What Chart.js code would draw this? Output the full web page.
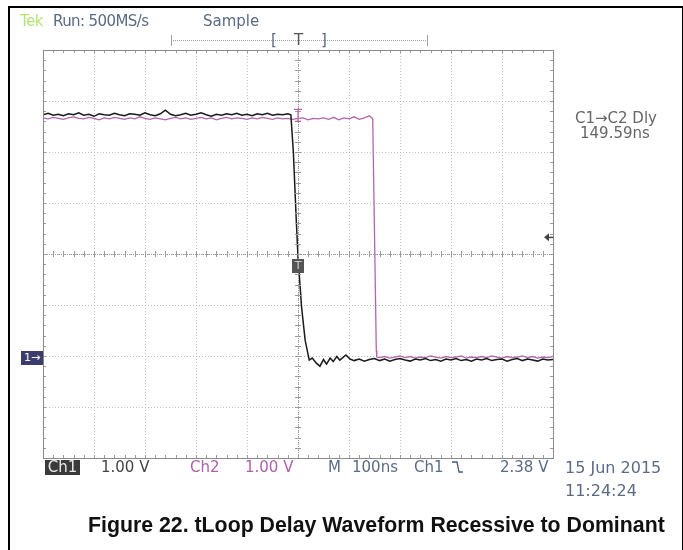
<!DOCTYPE html>
<html>
<head>
<meta charset="utf-8">
<script src="https://cdn.jsdelivr.net/npm/chart.js@4.4.0/dist/chart.umd.min.js"></script>
<style>
body{margin:0;background:#fff;}
#wrap{position:relative;width:683px;height:550px;background:#fff;overflow:hidden;}
#frame{position:absolute;left:8px;top:6px;width:672px;height:560px;border-left:2px solid #000;border-top:2px solid #000;border-right:2px solid #000;}
.t{position:absolute;white-space:nowrap;font-family:"DejaVu Sans",sans-serif;font-size:15px;line-height:16px;color:#5b6b85;}
#cap{position:absolute;left:88px;top:513px;white-space:nowrap;font-family:"Liberation Sans",Arial,sans-serif;font-weight:bold;font-size:21.3px;color:#111;}
canvas{position:absolute;left:0;top:0;}
</style>
</head>
<body>
<div id="wrap">
<canvas id="scope" width="683" height="550"></canvas>
<div id="frame"></div>
<div class="t" style="left:20px;top:13px;color:#b6e374;letter-spacing:-0.5px">Tek</div>
<div class="t" style="left:53px;top:13px;letter-spacing:-0.6px">Run: 500MS/s</div>
<div class="t" style="left:203px;top:13px">Sample</div>
<div class="t" style="left:271px;top:32px">[</div>
<div class="t" style="left:294px;top:32px;color:#555">T</div>
<div class="t" style="left:321px;top:32px">]</div>
<div class="t" style="left:575px;top:110px;color:#666">C1→C2 Dly</div>
<div class="t" style="left:580px;top:125px;color:#666">149.59ns</div>
<div class="t" style="left:45px;top:460px;width:35px;height:15px;line-height:15px;background:#3a3a3a;color:#e8e8e8;text-align:center">Ch1</div>
<div class="t" style="left:101px;top:459px;color:#444">1.00 V</div>
<div class="t" style="left:190px;top:459px;color:#b060a8">Ch2</div>
<div class="t" style="left:245px;top:459px;color:#b060a8">1.00 V</div>
<div class="t" style="left:328px;top:459px">M</div>
<div class="t" style="left:352px;top:459px">100ns</div>
<div class="t" style="left:414px;top:459px">Ch1</div>
<div class="t" style="left:500px;top:459px">2.38 V</div>
<div class="t" style="left:565px;top:460px;font-size:16px">15 Jun 2015</div>
<div class="t" style="left:565px;top:483px;font-size:16px">11:24:24</div>
<div class="t" style="left:21px;top:351px;width:22px;height:14px;line-height:14px;font-size:11px;background:#3c3c6c;color:#fff;text-align:center">1→</div>
<div class="t" style="left:292px;top:259px;width:12px;height:14px;line-height:14px;font-size:11px;background:#555;color:#ccc;text-align:center">T</div>
<div id="cap">Figure 22. tLoop Delay Waveform Recessive to Dominant</div>
</div>
<script>
// channel 1 (black), time in ns, level in divisions
let ch1Time=[-500,-490,-480,-470,-460,-450,-440,-430,-420,-410,-400,-390,-380,-370,-360,-350,-340,-330,-320,-310,
  -300,-290,-280,-270,-260,-250,-240,-230,-220,-210,-200,-190,-180,-170,-160,-150,-140,-130,-120,-110,
  -100,-90,-80,-70,-60,-50,-40,-30,-20,
  -14,-9,-4,0,7,14,22,28,36,43,50,56,63,69,76,82,94,102,
  110,120,130,140,150,160,170,180,190,200,210,220,230,240,250,260,270,280,290,300,
  310,320,330,340,350,360,370,380,390,400,410,420,430,440,450,460,470,480,490,500];
let ch1Level=[2.73,2.76,2.72,2.74,2.71,2.75,2.73,2.77,2.72,2.74,2.70,2.75,2.73,2.72,2.76,2.73,2.71,2.75,2.74,2.72,
  2.77,2.73,2.71,2.75,2.82,2.74,2.71,2.73,2.76,2.72,2.74,2.77,2.73,2.70,2.74,2.72,2.75,2.73,2.76,2.72,
  2.74,2.71,2.75,2.73,2.76,2.72,2.74,2.73,2.75,
  2.73,1.98,0.80,-0.06,-1.04,-1.69,-2.08,-2.04,-2.14,-2.20,-2.07,-2.16,-2.04,-2.11,-2.01,-2.08,-1.98,-2.06,
  -2.09,-2.06,-2.10,-2.07,-2.05,-2.09,-2.06,-2.10,-2.07,-2.05,-2.08,-2.10,-2.06,-2.08,-2.05,-2.09,-2.07,-2.10,-2.06,-2.08,
  -2.05,-2.09,-2.07,-2.10,-2.06,-2.08,-2.05,-2.09,-2.07,-2.06,-2.10,-2.07,-2.05,-2.09,-2.06,-2.08,-2.10,-2.06,-2.08,-2.07];

// channel 2 (purple)
let ch2Time=[-500,-490,-480,-470,-460,-450,-440,-430,-420,-410,-400,-390,-380,-370,-360,-350,-340,-330,-320,-310,
  -300,-290,-280,-270,-260,-250,-240,-230,-220,-210,-200,-190,-180,-170,-160,-150,-140,-130,-120,-110,
  -100,-90,-80,-70,-60,-50,-40,-30,-20,-10,0,10,20,30,40,50,60,70,80,90,100,110,120,130,140,
  146.5,147.8,153.5,154.5,
  160,170,180,190,200,210,220,230,240,250,260,270,280,290,300,310,320,330,340,350,
  360,370,380,390,400,410,420,430,440,450,460,470,480,490,500];
let ch2Level=[2.67,2.65,2.68,2.66,2.64,2.67,2.69,2.66,2.65,2.68,2.66,2.63,2.67,2.65,2.68,2.66,2.64,2.67,2.65,2.69,
  2.66,2.64,2.67,2.65,2.63,2.66,2.68,2.65,2.67,2.64,2.66,2.68,2.65,2.67,2.63,2.66,2.68,2.65,2.67,2.66,
  2.64,2.67,2.65,2.68,2.66,2.64,2.67,2.65,2.66,2.64,2.66,2.67,2.63,2.66,2.65,2.67,2.64,2.68,2.63,2.67,2.65,2.69,2.64,2.67,2.71,
  2.65,1.84,-1.88,-2.02,
  -2.03,-2.01,-2.04,-2.02,-2.00,-2.03,-2.01,-2.04,-2.02,-2.03,-2.00,-2.02,-2.04,-2.01,-2.03,-2.02,-2.00,-2.04,-2.02,-2.03,
  -2.01,-2.03,-2.00,-2.02,-2.04,-2.01,-2.03,-2.02,-2.00,-2.03,-2.01,-2.04,-2.02,-2.03,-2.01];

let trigLevel=0.33;   // arrow on right edge
let ch2Cursor=2.66;   // purple marker at t=0

let toPoints=(xs,ys)=>xs.map((x,i)=>({x:x,y:ys[i]}));

let scopeDeco={
  id:'scopeDeco',
  afterDatasetsDraw(chart){
    let ctx=chart.ctx, a=chart.chartArea, sx=chart.scales.x, sy=chart.scales.y;
    let cx=sx.getPixelForValue(0), cy=sy.getPixelForValue(0);
    ctx.save();
    ctx.strokeStyle='#9c9c9c';
    ctx.lineWidth=1;
    // centre axes, denser dots
    ctx.setLineDash([1,1]);
    ctx.beginPath();
    ctx.moveTo(a.left,Math.round(cy)+0.5);ctx.lineTo(a.right,Math.round(cy)+0.5);
    ctx.moveTo(Math.round(cx)+0.5,a.top);ctx.lineTo(Math.round(cx)+0.5,a.bottom);
    ctx.stroke();
    ctx.setLineDash([]);
    // minor ticks
    ctx.beginPath();
    for(let t=-500;t<=500;t+=20){
      let px=Math.round(sx.getPixelForValue(t))+0.5;
      ctx.moveTo(px,cy-3);ctx.lineTo(px,cy+3);
      ctx.moveTo(px,a.top);ctx.lineTo(px,a.top+3);
      ctx.moveTo(px,a.bottom);ctx.lineTo(px,a.bottom-3);
    }
    for(let v=-4;v<=4;v+=0.2){
      let py=Math.round(sy.getPixelForValue(v))+0.5;
      ctx.moveTo(cx-3,py);ctx.lineTo(cx+3,py);
      ctx.moveTo(a.left,py);ctx.lineTo(a.left+3,py);
      ctx.moveTo(a.right,py);ctx.lineTo(a.right-3,py);
    }
    ctx.stroke();
    // graticule frame
    ctx.strokeStyle='#8a8a8a';
    ctx.strokeRect(a.left+0.5,a.top+0.5,a.right-a.left,a.bottom-a.top);
    // record bar on top
    ctx.strokeStyle='#a0a0a0';
    ctx.setLineDash([1,1]);
    ctx.beginPath();ctx.moveTo(171,40.5);ctx.lineTo(427,40.5);ctx.stroke();
    ctx.setLineDash([]);
    ctx.beginPath();
    ctx.moveTo(171.5,35);ctx.lineTo(171.5,46);
    ctx.moveTo(427.5,35);ctx.lineTo(427.5,46);
    ctx.stroke();
    // trigger level arrow
    let ty=sy.getPixelForValue(trigLevel);
    ctx.fillStyle='#444';
    ctx.beginPath();
    ctx.moveTo(a.right-9,ty);ctx.lineTo(a.right-4,ty-4);ctx.lineTo(a.right-4,ty+4);ctx.closePath();ctx.fill();
    ctx.fillRect(a.right-4,ty-0.5,4,1.5);
    // ch2 cursor marker
    let my=sy.getPixelForValue(ch2Cursor);
    ctx.strokeStyle='#b366ad';ctx.lineWidth=1.2;
    ctx.beginPath();
    ctx.moveTo(cx-4,my-9);ctx.lineTo(cx+4,my-9);
    ctx.moveTo(cx,my-9);ctx.lineTo(cx,my+3);
    ctx.moveTo(cx-3,my+3);ctx.lineTo(cx+3,my+3);
    ctx.stroke();
    // falling edge symbol
    ctx.strokeStyle='#4a5a85';ctx.lineWidth=1.3;
    ctx.beginPath();
    ctx.moveTo(452,462);ctx.lineTo(457,462);ctx.lineTo(459,472);ctx.lineTo(463,472);
    ctx.stroke();
    ctx.restore();
  }
};

window.onload=()=>{
  let ctx=document.getElementById('scope').getContext('2d');
  new Chart(ctx,{
    type:'line',
    data:{
      datasets:[{
        label:'Ch1',
        data:toPoints(ch1Time,ch1Level),
        borderColor:'#1a1a1a',
        borderWidth:1.5,
        pointRadius:0,
        tension:0
      },{
        label:'Ch2',
        data:toPoints(ch2Time,ch2Level),
        borderColor:'#b366ad',
        borderWidth:1.3,
        pointRadius:0,
        tension:0
      }]
    },
    options:{
      responsive:false,
      animation:false,
      events:[],
      layout:{padding:{left:43,right:130,top:50,bottom:92}},
      plugins:{legend:{display:false},tooltip:{enabled:false}},
      scales:{
        x:{type:'linear',min:-500,max:500,
          ticks:{display:false,stepSize:100},
          grid:{color:'#bdbdbd',drawTicks:false},
          border:{display:false,dash:[1,2]}},
        y:{type:'linear',min:-4,max:4,
          ticks:{display:false,stepSize:1},
          grid:{color:'#bdbdbd',drawTicks:false},
          border:{display:false,dash:[1,2]}}
      }
    },
    plugins:[scopeDeco]
  });
};
</script>
</body>
</html>
